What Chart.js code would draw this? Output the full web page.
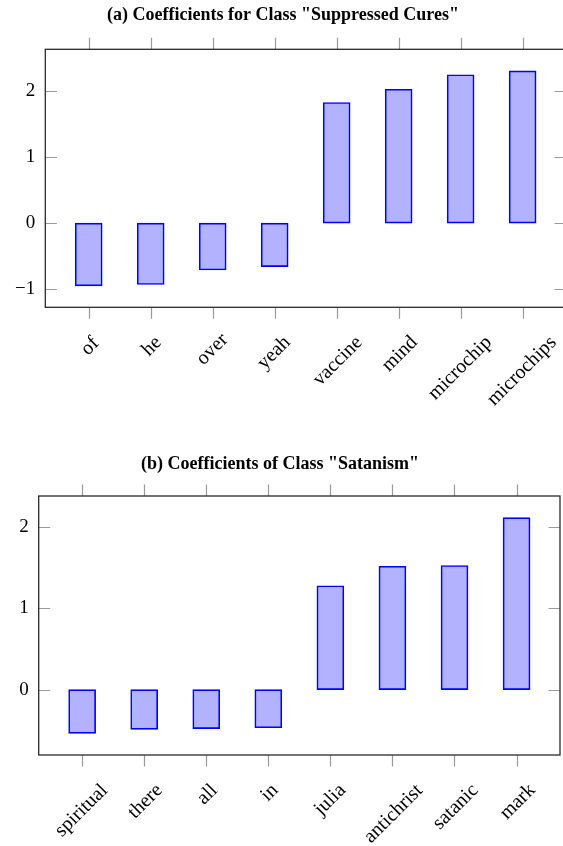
<!DOCTYPE html>
<html>
<head>
<meta charset="utf-8">
<script src="https://cdn.jsdelivr.net/npm/chart.js@4"></script>
<style>
  html, body { margin: 0; padding: 0; background: #fff; }
  body { width: 563px; height: 846px; overflow: hidden; position: relative; }
  .panel { position: absolute; left: 0; }
</style>
</head>
<body>
<div class="panel" style="top:0"><canvas id="chartA" width="575" height="440"></canvas></div>
<div class="panel" style="top:440px"><canvas id="chartB" width="563" height="406"></canvas></div>
<script>
// Panel (a)
const titleA = '(a) Coefficients for Class "Suppressed Cures"';
const wordsA = ['of', 'he', 'over', 'yeah', 'vaccine', 'mind', 'microchip', 'microchips'];
const coefA = [-0.95, -0.93, -0.71, -0.66, 1.83, 2.03, 2.25, 2.31];
const yTicksA = [-1, 0, 1, 2];

// Panel (b)
const titleB = '(b) Coefficients of Class "Satanism"';
const wordsB = ['spiritual', 'there', 'all', 'in', 'julia', 'antichrist', 'satanic', 'mark'];
const coefB = [-0.54, -0.49, -0.48, -0.47, 1.28, 1.52, 1.53, 2.12];
const yTicksB = [0, 1, 2];

const SERIF = '"Liberation Serif", "DejaVu Serif", serif';

/**
 * Frame, pgfplots-like tick marks and rotated word labels
 */
const frameTicks = {
    id: 'frameTicks',
    afterDraw(chart, args, opts) {
        const { ctx, chartArea: a, scales: { x, y } } = chart;
        ctx.save();

        // tick marks
        ctx.strokeStyle = '#9a9a9a';
        ctx.lineWidth = 1.2;
        ctx.beginPath();
        y.ticks.forEach(t => {
            const py = Math.round(y.getPixelForValue(t.value)) + 0.5;
            ctx.moveTo(a.left, py); ctx.lineTo(a.left + 11.5, py);
            ctx.moveTo(a.right, py); ctx.lineTo(a.right - 11.5, py);
        });
        opts.words.forEach((w, i) => {
            const px = Math.round(x.getPixelForValue(i)) + 0.5;
            ctx.moveTo(px, a.top); ctx.lineTo(px, a.top - 11.5);
            ctx.moveTo(px, a.bottom); ctx.lineTo(px, a.bottom + 11.5);
        });
        ctx.stroke();

        // frame
        ctx.strokeStyle = '#2a2a2a';
        ctx.lineWidth = 1.3;
        ctx.strokeRect(a.left, a.top, a.right - a.left, a.bottom - a.top);

        // labels rotated 45deg, bounding box centred under the tick
        ctx.fillStyle = '#000';
        ctx.font = '20px ' + SERIF;
        ctx.textAlign = 'left';
        ctx.textBaseline = 'alphabetic';
        const c = Math.SQRT1_2;
        const labelTop = a.bottom + 26;
        opts.words.forEach((w, i) => {
            const m = ctx.measureText(w);
            const xl = -m.actualBoundingBoxLeft, xr = m.actualBoundingBoxRight;
            const asc = m.actualBoundingBoxAscent, desc = m.actualBoundingBoxDescent;
            const pts = [[xl, -asc], [xr, -asc], [xl, desc], [xr, desc]];
            const X = pts.map(p => c * (p[0] + p[1]));
            const Y = pts.map(p => c * (p[1] - p[0]));
            const ox = x.getPixelForValue(i) - (Math.min(...X) + Math.max(...X)) / 2;
            const oy = labelTop - Math.min(...Y);
            ctx.save();
            ctx.translate(ox, oy);
            ctx.rotate(-Math.PI / 4);
            ctx.fillText(w, 0, 0);
            ctx.restore();
        });
        ctx.restore();
    }
};

/**
 * Build one coefficient bar chart
 */
function makeChart(id, title, words, coef, yTicks, box) {
    const ctx = document.getElementById(id).getContext('2d');

    // y range: data range enlarged by 10% at both ends
    const lo = Math.min(...coef), hi = Math.max(...coef);
    const pad = (hi - lo) * 0.1;

    return new Chart(ctx, {
        type: 'bar',
        data: {
            datasets: [{
                data: coef.map((v, i) => ({ x: i, y: v })),
                backgroundColor: 'rgba(0, 0, 255, 0.3)',
                borderColor: '#0000ff',
                borderWidth: 1,
                borderSkipped: false,
                barThickness: 27
            }]
        },
        options: {
            responsive: false,
            animation: false,
            layout: { padding: { left: 0, top: 0, right: box.right, bottom: box.bottom } },
            plugins: {
                legend: { display: false },
                tooltip: { enabled: false },
                title: {
                    display: true,
                    text: title,
                    color: '#000',
                    font: { family: SERIF, size: 18, weight: 'bold', lineHeight: 1.2 },
                    padding: { top: box.titleTop, bottom: box.titleBottom }
                },
                frameTicks: { words: words }
            },
            scales: {
                x: {
                    type: 'linear',
                    display: false,
                    offset: false,
                    min: -0.7,
                    max: words.length - 1 + 0.7
                },
                y: {
                    type: 'linear',
                    min: lo - pad,
                    max: hi + pad,
                    grid: { display: false, drawTicks: false },
                    border: { display: false },
                    afterBuildTicks: s => { s.ticks = yTicks.map(v => ({ value: v })); },
                    afterFit: s => { s.width = box.left; },
                    ticks: {
                        padding: 10,
                        color: '#000',
                        font: { family: SERIF, size: 19 },
                        callback: v => (v < 0 ? '\u2212' + Math.abs(v) : String(v))
                    }
                }
            }
        },
        plugins: [frameTicks]
    });
}

makeChart('chartA', titleA, wordsA, coefA, yTicksA,
    { left: 45.3, right: 9, bottom: 132.7, titleTop: 4.8, titleBottom: 22.9 });
makeChart('chartB', titleB, wordsB, coefB, yTicksB,
    { left: 38.7, right: 3, bottom: 91, titleTop: 13.1, titleBottom: 21.3 });
</script>
</body>
</html>
